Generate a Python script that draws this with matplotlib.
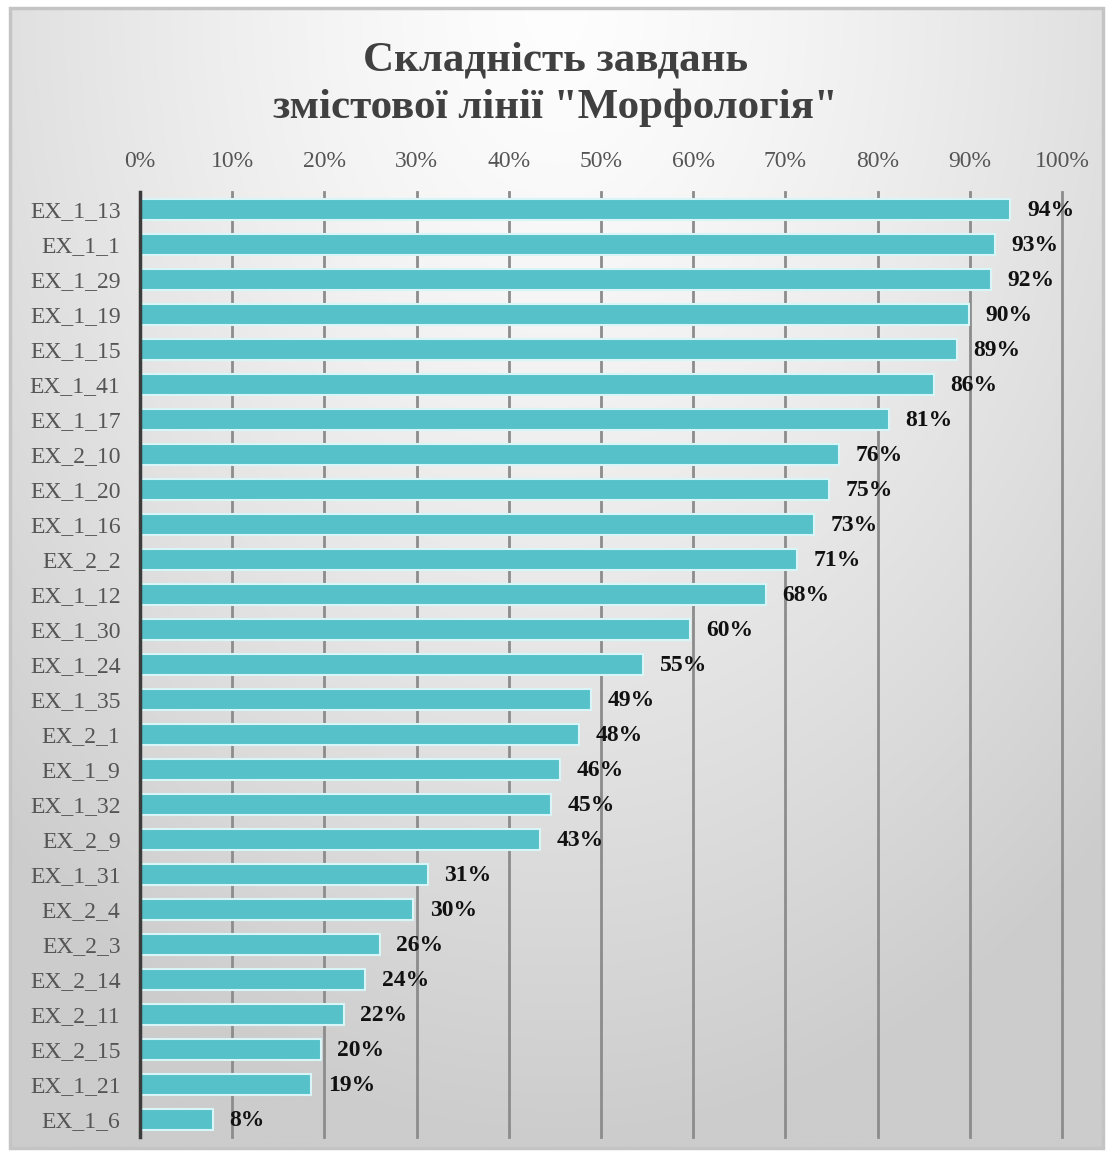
import numpy as np
import matplotlib
matplotlib.use("Agg")
import matplotlib.pyplot as plt
from matplotlib.patches import Rectangle

categories = ["EX_1_13", "EX_1_1", "EX_1_29", "EX_1_19", "EX_1_15", "EX_1_41", "EX_1_17",
              "EX_2_10", "EX_1_20", "EX_1_16", "EX_2_2", "EX_1_12", "EX_1_30", "EX_1_24",
              "EX_1_35", "EX_2_1", "EX_1_9", "EX_1_32", "EX_2_9", "EX_1_31", "EX_2_4",
              "EX_2_3", "EX_2_14", "EX_2_11", "EX_2_15", "EX_1_21", "EX_1_6"]
values = [94.4, 92.7, 92.3, 89.9, 88.6, 86.1, 81.2, 75.8, 74.7, 73.1, 71.3, 67.9, 59.6, 54.6,
          48.9, 47.6, 45.6, 44.6, 43.4, 31.2, 29.6, 26.0, 24.4, 22.1, 19.6, 18.6, 7.9]
xticks = [0, 10, 20, 30, 40, 50, 60, 70, 80, 90, 100]
title = "Складність завдань\nзмістової лінії \"Морфологія\""

W, H = 1111, 1156
fig = plt.figure(figsize=(W / 100, H / 100), dpi=100)
fig.patch.set_facecolor("white")

# background gradient panel
bg = fig.add_axes([10 / W, 8 / H, 1093 / W, 1140 / H])
ny, nx = 300, 300
yy, xx = np.mgrid[0:1:ny * 1j, 0:1:nx * 1j]
d = np.sqrt(((xx - 0.5) / 0.75) ** 2 + (yy / 1.0) ** 2)
d = np.clip(d, 0, 1)
val = 0.995 - 0.195 * d ** 1.3
bg.imshow(np.dstack([val, val, val]), extent=[0, 1, 1, 0], aspect="auto", interpolation="bilinear")
bg.set_xlim(0, 1)
bg.set_ylim(1, 0)
bg.axis("off")
bg.add_patch(Rectangle((0, 0), 1, 1, transform=bg.transAxes, fill=False,
                       edgecolor="#c4c4c4", lw=2.5, clip_on=False))

serif = ["Liberation Serif", "DejaVu Serif"]

ax = fig.add_axes([140 / W, (H - 1136.5) / H, 922 / W, 945 / H])
ax.set_facecolor("none")
y = np.arange(len(categories))
ax.barh(y, values, height=0.6, color="#57c1c9", edgecolor="#d8f6f8", linewidth=1.5, zorder=3)
ax.set_ylim(len(categories) - 0.5, -0.5)
ax.set_xlim(0, 100)
ax.set_yticks(y)
ax.set_yticklabels(categories, family=serif, fontsize=17, color="#555555")
ax.set_xticks(xticks)
ax.set_xticklabels([f"{t}%" for t in xticks], family=serif, fontsize=17, color="#555555")
ax.xaxis.tick_top()
ax.tick_params(axis="x", length=0, pad=14)
ax.tick_params(axis="y", length=0, pad=14)
ax.xaxis.grid(True, color="#8c8c8c", lw=2, zorder=1)
for gl in ax.get_xgridlines():
    gl.set_clip_on(False)
ax.set_axisbelow(True)
for s in ["top", "right", "bottom"]:
    ax.spines[s].set_visible(False)
ax.spines["left"].set_color("#3c3c3c")
ax.spines["left"].set_linewidth(2.5)
ax.spines["left"].set_zorder(4)

for yi, v in zip(y, values):
    ax.annotate(f"{round(v):d}%", xy=(v, yi), xytext=(12, -1), textcoords="offset points",
                ha="left", va="center", family=serif, fontsize=17, fontweight="bold",
                color="#111111", zorder=5)

fig.text(0.5, 1 - 84 / H, title, ha="center", va="center", family=serif, fontsize=31,
         fontweight="bold", color="#404040", linespacing=1.3)

fig.savefig("out.png", dpi=100)
